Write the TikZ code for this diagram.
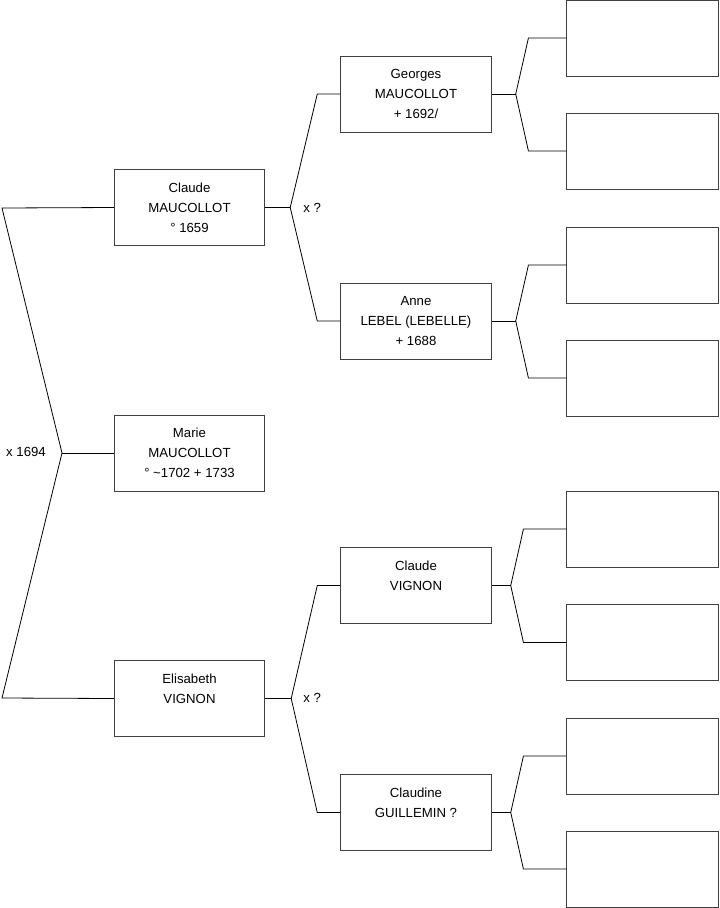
\documentclass[tikz,border=0pt]{standalone}
\usepackage{fontspec}
\setmainfont{Liberation Sans}
\usetikzlibrary{calc}
\begin{document}
\begin{tikzpicture}[x=0.75pt,y=-0.75pt,line width=0.6pt,
    person/.style={draw=black!75,minimum width=113pt,minimum height=57pt,inner sep=0pt,
      align=center,font=\fontsize{9.9}{15}\selectfont},
    blank/.style={draw=black!75,minimum width=113.5pt,minimum height=57pt,inner sep=0pt},
    note/.style={font=\fontsize{9.9}{15}\selectfont,inner sep=0pt}]
    \useasboundingbox (0,0) rectangle (719,908);
    % generation 1
    \node[person] (claudeM) at (189.5,207.5) {Claude\\MAUCOLLOT\\° 1659};
    \node[person] (marie) at (189.5,453) {Marie\\MAUCOLLOT\\° \textasciitilde1702 + 1733};
    \node[person] (elisabeth) at (189.5,698.5) {Elisabeth\\VIGNON\\~};
    % generation 2
    \node[person] (georges) at (416,94) {Georges\\MAUCOLLOT\\+ 1692/};
    \node[person] (anne) at (416,321) {Anne\\LEBEL (LEBELLE)\\+ 1688};
    \node[person] (claudeV) at (416,585.5) {Claude\\VIGNON\\~};
    \node[person] (claudine) at (416,812.5) {Claudine\\GUILLEMIN ?\\~};
    % generation 3, empty
    \foreach \y [count=\i] in {38,151,265,378,529,642.5,756,869}
        \node[blank] (g\i) at (642.5,\y) {};
    % marriage of the parents
    \coordinate (top) at (2,208);
    \coordinate (bot) at (2,698);
    \coordinate (m0) at (62,453);
    \draw (claudeM.west) -- (top) -- (m0) -- (bot) -- (elisabeth.west);
    \draw (m0) -- (marie.west);
    \node[note] (x0) at (26,452) {x 1694};
    % grandparents
    \draw (claudeM.east) -- ++(25,0) coordinate (f1);
    \draw (georges.west) -- ++(-23,0) -- (f1) -- ($(anne.west)+(-23,0)$) -- (anne.west);
    \node[note,right] (x1) at (303,208) {x ?};
    \draw (elisabeth.east) -- ++(26,0) coordinate (f2);
    \draw (claudeV.west) -- ++(-23,0) -- (f2) -- ($(claudine.west)+(-23,0)$) -- (claudine.west);
    \node[note,right] (x2) at (303,698) {x ?};
    % great-grandparents
    \foreach \p/\a/\b/\d/\e in {georges/g1/g2/24/38, anne/g3/g4/24/38,
        claudeV/g5/g6/19/43, claudine/g7/g8/19/43}{
        \draw (\p.east) -- ++(\d,0) coordinate (fk);
        \draw (\a.west) -- ++(-\e,0) -- (fk) -- ($(\b.west)+(-\e,0)$) -- (\b.west);
    }
\end{tikzpicture}
\end{document}
